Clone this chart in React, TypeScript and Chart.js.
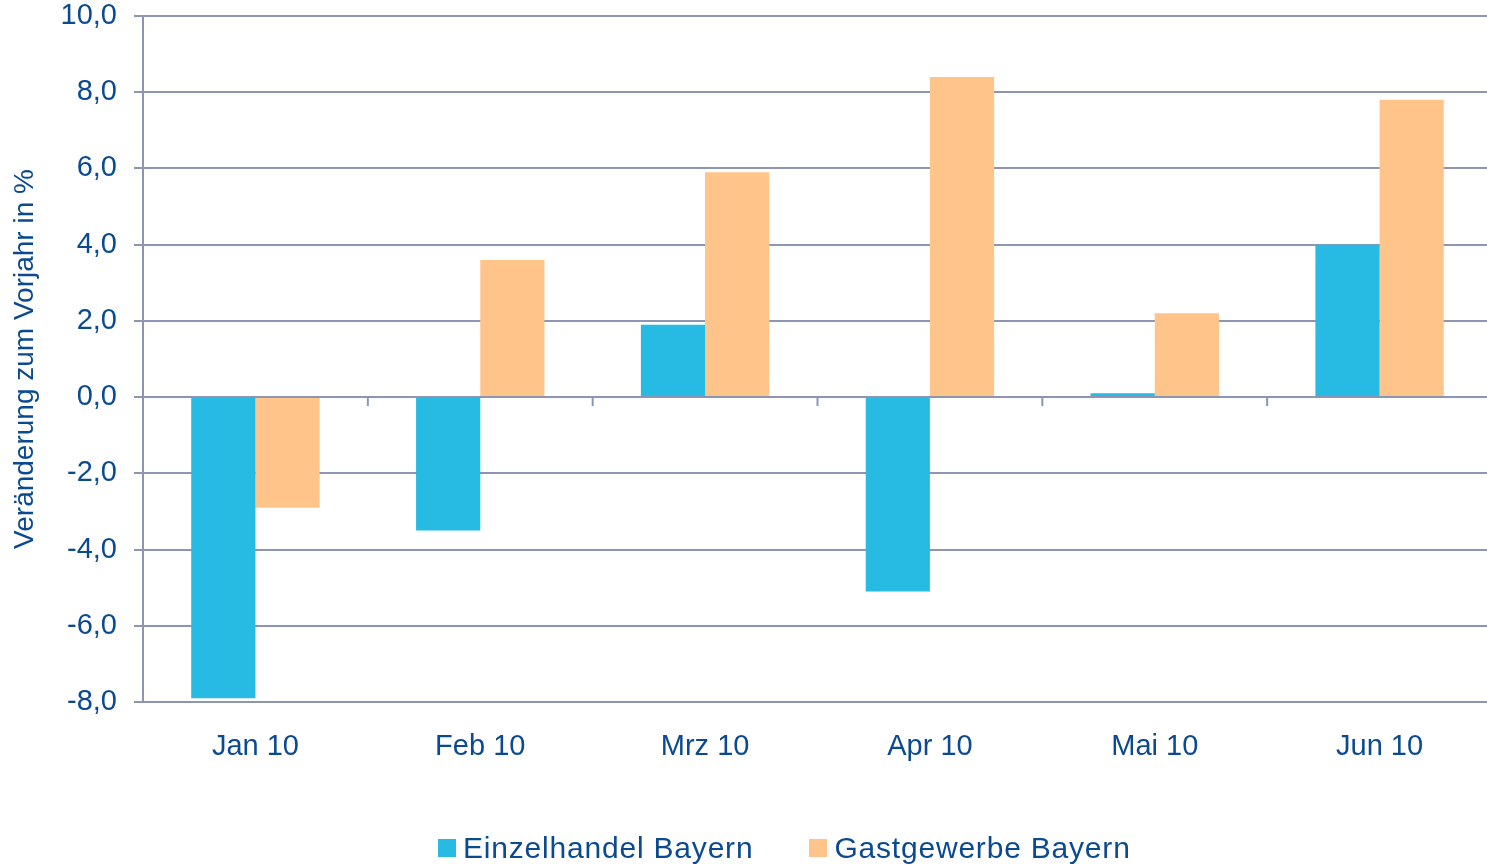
import React, { useEffect, useRef } from "react";
import { Chart, registerables } from "chart.js";

Chart.register(...registerables);

const categories = ["Jan 10", "Feb 10", "Mrz 10", "Apr 10", "Mai 10", "Jun 10"];
const einzelhandel = [-7.9, -3.5, 1.9, -5.1, 0.1, 4.0];
const gastgewerbe = [-2.9, 3.6, 5.9, 8.4, 2.2, 7.8];
const seriesNames = ["Einzelhandel Bayern", "Gastgewerbe Bayern"];
const yAxisTitle = "Veränderung zum Vorjahr in %";

const TEXT = "#0B4A8F";
const GRID = "#8C95B4";
const BLUE = "#27BAE2";
const ORANGE = "#FFC489";
const FONT = "'Liberation Sans', Arial, sans-serif";
const COLORS = [BLUE, ORANGE];

const zeroTicks = {
  id: "zeroTicks",
  afterDraw(chart: any) {
    const x = chart.scales.x;
    const y = chart.scales.y;
    const ctx = chart.ctx;
    const y0 = y.getPixelForValue(0);
    const n = categories.length;
    ctx.save();
    ctx.strokeStyle = GRID;
    ctx.lineWidth = 2;
    for (let i = 1; i < n; i++) {
      const px = x.left + (i * (x.right - x.left)) / n;
      ctx.beginPath();
      ctx.moveTo(px, y0);
      ctx.lineTo(px, y0 + 9);
      ctx.stroke();
    }
    ctx.restore();
  },
};

export default function App() {
  const ref = useRef<HTMLCanvasElement>(null);
  useEffect(() => {
    const chart = new Chart(ref.current!, {
      type: "bar",
      data: {
        labels: categories,
        datasets: [
          {
            label: seriesNames[0],
            data: einzelhandel,
            backgroundColor: BLUE,
            categoryPercentage: 0.571,
            barPercentage: 1,
          },
          {
            label: seriesNames[1],
            data: gastgewerbe,
            backgroundColor: ORANGE,
            categoryPercentage: 0.571,
            barPercentage: 1,
          },
        ],
      },
      options: {
        animation: false,
        responsive: false,
        layout: { padding: { top: 16, right: 0, left: 0, bottom: 0 } },
        plugins: {
          tooltip: { enabled: false },
          legend: { display: false },
        },
        scales: {
          x: {
            grid: { display: false, drawTicks: false },
            border: { display: false },
            ticks: {
              color: TEXT,
              font: { family: FONT, size: 29 },
              padding: 28,
              maxRotation: 0,
            },
            afterFit(scale: any) {
              scale.height = 165;
            },
          },
          y: {
            min: -8,
            max: 10,
            ticks: {
              stepSize: 2,
              color: TEXT,
              font: { family: FONT, size: 29, lineHeight: 1.1 },
              padding: 17,
              callback: (v: any) => Number(v).toFixed(1).replace(".", ","),
            },
            grid: { color: GRID, lineWidth: 2, tickLength: 9, drawTicks: true },
            border: { display: true, color: GRID, width: 2 },
            title: {
              display: true,
              text: yAxisTitle,
              color: TEXT,
              font: { family: FONT, size: 28 },
              padding: { top: 8, bottom: 0 },
            },
            afterFit(scale: any) {
              scale.width = 143;
              scale.paddingTop = 0;
              scale.paddingBottom = 0;
            },
          },
        },
      },
      plugins: [zeroTicks],
    });
    return () => chart.destroy();
  }, []);
  return (
    <div
      style={{
        position: "absolute",
        left: 0,
        top: 0,
        width: 1487,
        height: 867,
        overflow: "hidden",
        background: "#fff",
      }}
    >
      <canvas ref={ref} width={1492} height={867} />
      <div
        style={{
          position: "absolute",
          left: 438,
          top: 833,
          display: "flex",
          gap: 56,
          fontFamily: FONT,
          fontSize: 30,
          lineHeight: "30px",
          letterSpacing: "0.8px",
          color: TEXT,
          whiteSpace: "nowrap",
        }}
      >
        {seriesNames.map((name, i) => (
          <div key={name} style={{ display: "flex", alignItems: "flex-start" }}>
            <span
              style={{
                display: "inline-block",
                width: 18,
                height: 18,
                marginTop: 6,
                marginRight: 7,
                background: COLORS[i],
              }}
            />
            <span>{name}</span>
          </div>
        ))}
      </div>
    </div>
  );
}
